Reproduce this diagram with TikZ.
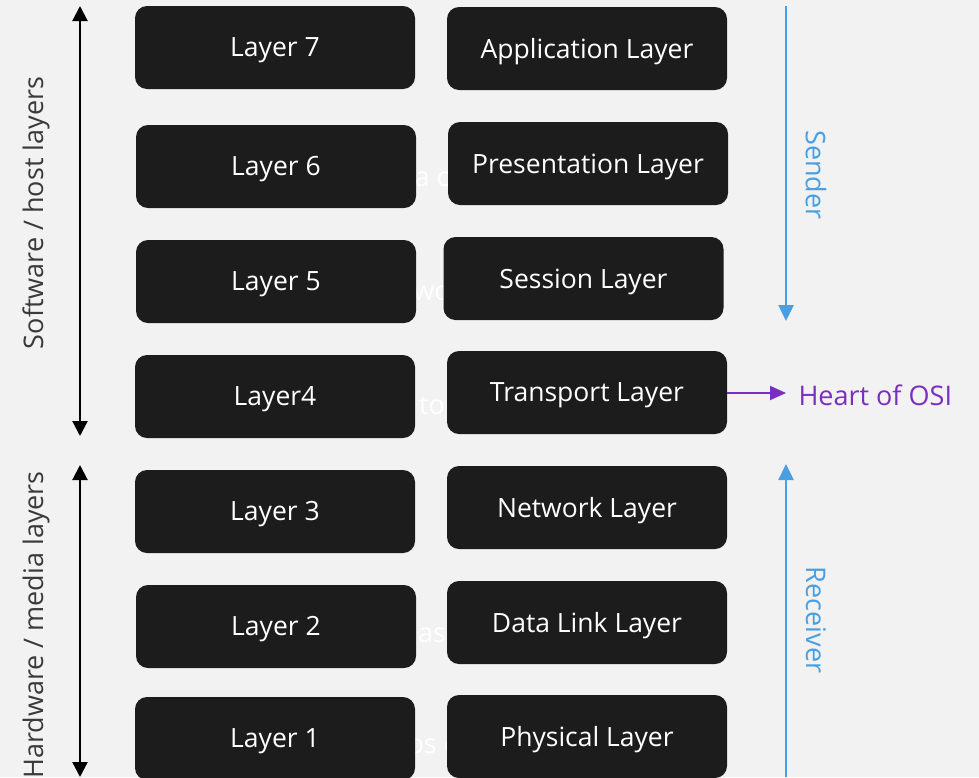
\documentclass[tikz,border=0pt]{standalone}
\usepackage{fontspec}
\setmainfont{Open Sans}
\usetikzlibrary{arrows.meta}
\definecolor{bg}{HTML}{F2F2F2}
\definecolor{boxc}{HTML}{1C1C1C}
\definecolor{bluec}{HTML}{4A9FE0}
\definecolor{purp}{HTML}{7B2FBE}
\definecolor{labc}{HTML}{3A3A3A}
\tikzset{
  layerbox/.style={fill=boxc, rounded corners=12pt, minimum width=280pt, minimum height=83pt, inner sep=0pt},
  boxtext/.style={text=white, font=\fontsize{26.5}{32}\selectfont},
  sidelab/.style={text=labc, font=\fontsize{27}{32}\selectfont},
  bluelab/.style={text=bluec, font=\fontsize{27}{32}\selectfont},
  ghost/.style={text=white, font=\fontsize{27}{32}\selectfont},
  blackarr/.style={draw=black, line width=2.2pt, {Triangle[length=15pt,width=15pt]}-{Triangle[length=15pt,width=15pt]}},
  bluearr/.style={draw=bluec, line width=2.5pt, -{Triangle[length=16pt,width=15pt]}},
}
\begin{document}
\begin{tikzpicture}[x=1pt,y=-1pt]
\fill[bg] (0,0) rectangle (979,777);
\useasboundingbox (0,0) rectangle (979,777);
% ghost text fragments behind boxes
\node[ghost] (g1) at (432,179) {a c};
\node[ghost] (g2) at (432,293) {wo};
\node[ghost] (g3) at (432,406) {to};
\node[ghost] (g4) at (432,635) {as};
\node[ghost] (g5) at (432,749) {ps c};
% left column
\node[layerbox] (l7) at (275,47.5) {};
\node[layerbox] (l6) at (276,166.5) {};
\node[layerbox] (l5) at (276,281.5) {};
\node[layerbox] (l4) at (275,396.5) {};
\node[layerbox] (l3) at (275,511.5) {};
\node[layerbox] (l2) at (276,626.5) {};
\node[layerbox] (l1) at (275,738.5) {};
\node[boxtext] at ([yshift=-3pt]l7) {Layer 7};
\node[boxtext] at ([yshift=-3pt]l6) {Layer 6};
\node[boxtext] at ([yshift=-3pt]l5) {Layer 5};
\node[boxtext] at ([yshift=-3pt]l4) {Layer4};
\node[boxtext] at ([yshift=-3pt]l3) {Layer 3};
\node[boxtext] at ([yshift=-3pt]l2) {Layer 2};
\node[boxtext] at ([yshift=-3pt]l1) {Layer 1};
% right column
\node[layerbox] (r7) at (587,48.5) {};
\node[layerbox] (r6) at (588,163.5) {};
\node[layerbox] (r5) at (583.5,278.5) {};
\node[layerbox] (r4) at (587,392.5) {};
\node[layerbox] (r3) at (587,507.5) {};
\node[layerbox] (r2) at (587,622.5) {};
\node[layerbox] (r1) at (587,736.5) {};
\node[boxtext] at ([yshift=-3pt]r7) {Application Layer};
\node[boxtext] at ([yshift=-3pt]r6) {Presentation Layer};
\node[boxtext] at ([yshift=-3pt]r5) {Session Layer};
\node[boxtext] at ([yshift=-3pt]r4) {Transport Layer};
\node[boxtext] at ([yshift=-3pt]r3) {Network Layer};
\node[boxtext] at ([yshift=-3pt]r2) {Data Link Layer};
\node[boxtext] at ([yshift=-3pt]r1) {Physical Layer};
% left arrows
\coordinate (sa1) at (80,6);
\coordinate (sa2) at (80,436);
\coordinate (ha1) at (80,465);
\coordinate (ha2) at (80,777);
\draw[blackarr] (sa1) -- (sa2);
\draw[blackarr] (ha1) -- (ha2);
\node[sidelab, rotate=90] (sw) at (36,213) {Software / host layers};
\node[sidelab, rotate=90] (hw) at (36,625) {Hardware / media layers};
% right arrows
\coordinate (sd1) at (786,6);
\coordinate (sd2) at (786,321);
\coordinate (rc1) at (786,777);
\coordinate (rc2) at (786,464);
\draw[bluearr] (sd1) -- (sd2);
\draw[bluearr] (rc1) -- (rc2);
\node[bluelab, rotate=-90] (snd) at (816,175) {Sender};
\node[bluelab, rotate=-90] (rcv) at (816,620) {Receiver};
% heart of OSI
\node[text=purp, font=\fontsize{27}{32}\selectfont, anchor=west] (heart) at (795,395) {Heart of OSI};
\coordinate (ha) at (786,393);
\draw[purp, line width=2pt, -{Triangle[length=16pt,width=14pt]}] (r4.east |- ha) -- (ha);
\end{tikzpicture}
\end{document}
